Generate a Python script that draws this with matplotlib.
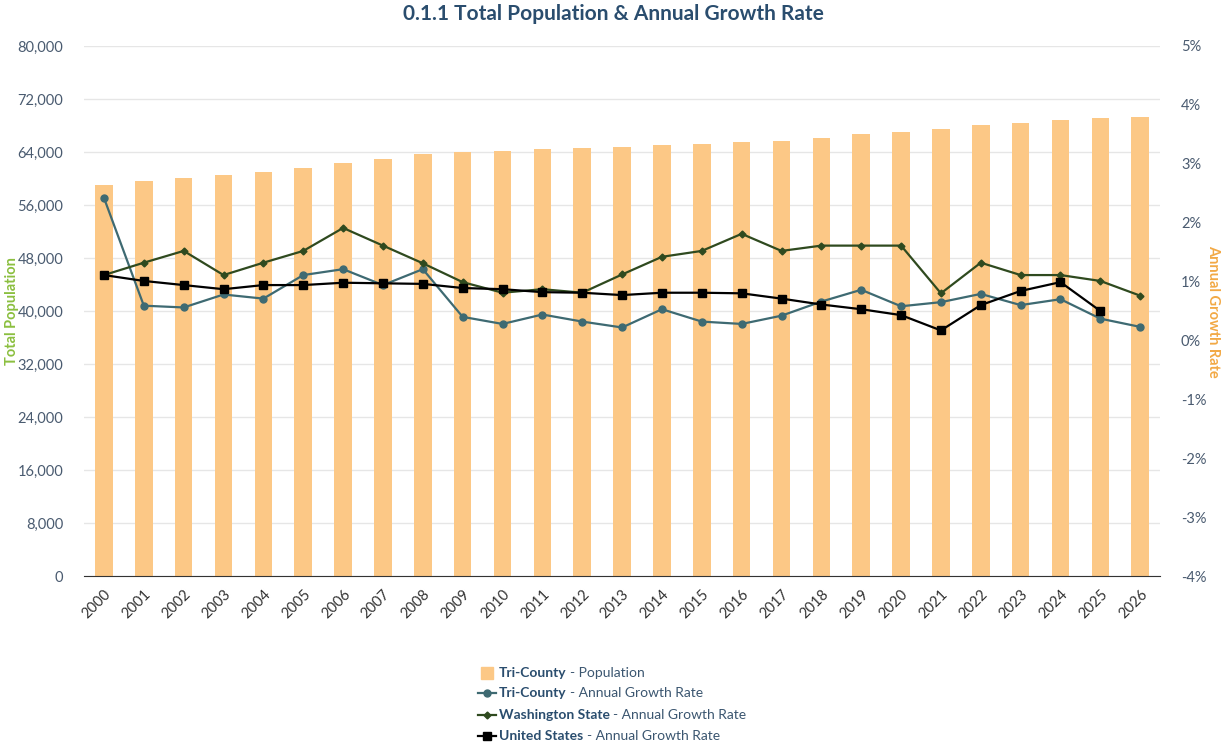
import numpy as np
import matplotlib.pyplot as plt
from matplotlib.lines import Line2D
from matplotlib.patches import Rectangle
from matplotlib.ticker import FuncFormatter, MultipleLocator

plt.rcParams['font.family'] = ['Lato', 'DejaVu Sans']

# Data
years = list(range(2000, 2027))
population = [58970, 59620, 60030, 60480, 60980, 61530, 62290, 62890, 63700,
              63950, 64100, 64400, 64550, 64700, 65060, 65200, 65460, 65660,
              66060, 66720, 67020, 67420, 68080, 68330, 68780, 69130, 69280]
tri_county_growth = [2.42, 0.59, 0.56, 0.78, 0.71, 1.11, 1.21, 0.94, 1.21,
                     0.40, 0.28, 0.44, 0.32, 0.22, 0.53, 0.32, 0.28, 0.42,
                     0.66, 0.86, 0.58, 0.65, 0.79, 0.60, 0.70, 0.37, 0.23]
washington_growth = [1.11, 1.32, 1.52, 1.11, 1.32, 1.52, 1.91, 1.61, 1.31,
                     0.99, 0.81, 0.87, 0.81, 1.12, 1.42, 1.52, 1.81, 1.52,
                     1.61, 1.61, 1.61, 0.80, 1.32, 1.11, 1.11, 1.01, 0.76]
us_growth = [1.11, 1.01, 0.94, 0.87, 0.94, 0.94, 0.98, 0.97, 0.96,
             0.89, 0.87, 0.82, 0.81, 0.77, 0.81, 0.81, 0.80, 0.71,
             0.61, 0.53, 0.43, 0.17, 0.60, 0.84, 0.99, 0.50, np.nan]

# Colours
bar_color = '#FCC886'
tri_color = '#3E6A72'
wa_color = '#2F4A1F'
us_color = '#000000'
title_color = '#2A4D6E'
tick_color = '#4A5B70'

fig = plt.figure(figsize=(12.27, 7.5), dpi=100)
ax = fig.add_axes([0.0685, 0.232, 0.877, 0.7067])
ax2 = ax.twinx()

x = np.arange(len(years))
ax.bar(x, population, width=0.44, color=bar_color, zorder=2)

ax.set_xlim(-0.5, len(years) - 0.5)
ax.set_ylim(0, 80000)
ax.yaxis.set_major_locator(MultipleLocator(8000))
ax.yaxis.set_major_formatter(FuncFormatter(lambda v, p: f"{int(v):,}"))
ax.grid(axis='y', color='#E6E6E6', linewidth=1, zorder=0)
ax.set_axisbelow(True)
ax.set_xticks(x)
ax.set_xticklabels([str(y) for y in years], rotation=45, ha='right', va='top',
                   rotation_mode='anchor', fontsize=10.5, color='#333333')
ax.tick_params(axis='x', length=0, pad=8)
ax.tick_params(axis='y', length=0, pad=15, labelsize=10.5, labelcolor=tick_color)

for s in ['top', 'left', 'right']:
    ax.spines[s].set_visible(False)
    ax2.spines[s].set_visible(False)
ax.spines['bottom'].set_color('#333333')
ax2.spines['bottom'].set_visible(False)

ax.set_ylabel('Total Population', color='#8BBF3F', fontsize=10.5,
              fontweight='bold', va='center')
ax.yaxis.set_label_coords(-0.067, 0.5)

# growth-rate lines on the right axis
ax2.plot(x, tri_county_growth, color=tri_color, linewidth=1.6, marker='o',
         markersize=5, zorder=3)
ax2.plot(x, washington_growth, color=wa_color, linewidth=1.6, marker='D',
         markersize=3.5, zorder=4)
ax2.plot(x, us_growth, color=us_color, linewidth=1.6, marker='s',
         markersize=6, zorder=5)
ax2.set_ylim(-4, 5)
ax2.yaxis.set_major_locator(MultipleLocator(1))
ax2.yaxis.set_major_formatter(FuncFormatter(lambda v, p: f"{int(round(v))}%"))
ax2.tick_params(axis='y', length=0, pad=15, labelsize=10.5, labelcolor=tick_color)
ax2.set_ylabel('Annual Growth Rate', color='#F2A945', fontsize=10.5,
               fontweight='bold', rotation=270, va='center')
ax2.yaxis.set_label_coords(1.049, 0.5)

fig.text(0.5, 0.981, '0.1.1 Total Population & Annual Growth Rate',
         ha='center', va='center', fontsize=15, fontweight='bold',
         color=title_color)

# Legend built by hand so the series name can be bold
legend_rows = [
    ('Tri-County', '- Population', 'bar', bar_color),
    ('Tri-County', '- Annual Growth Rate', 'o', tri_color),
    ('Washington State', '- Annual Growth Rate', 'D', wa_color),
    ('United States', '- Annual Growth Rate', 's', us_color),
]
legend_y = [673, 693, 715, 736]
W, H = 1227, 750
for (bold, rest, kind, col), py in zip(legend_rows, legend_y):
    fy = 1 - py / H
    if kind == 'bar':
        fig.add_artist(Rectangle((481 / W, fy - 6 / H), 12 / W, 12 / H,
                                 transform=fig.transFigure, color=col))
    else:
        ms = {'o': 5, 'D': 3.5, 's': 6}[kind]
        fig.add_artist(Line2D([478 / W, 496 / W], [fy, fy],
                              transform=fig.transFigure, color=col,
                              linewidth=1.6))
        fig.add_artist(Line2D([487 / W], [fy], transform=fig.transFigure,
                              color=col, marker=kind, markersize=ms))
    t = fig.text(499 / W, fy, bold, ha='left', va='center', fontsize=10,
                 fontweight='bold', color=title_color)
    ax.annotate(rest, xy=(1, 0.5), xycoords=t, xytext=(2.5, 0),
                textcoords='offset points', ha='left', va='center',
                fontsize=10, color='#3B5670', annotation_clip=False)

fig.savefig('out.png', dpi=100)
